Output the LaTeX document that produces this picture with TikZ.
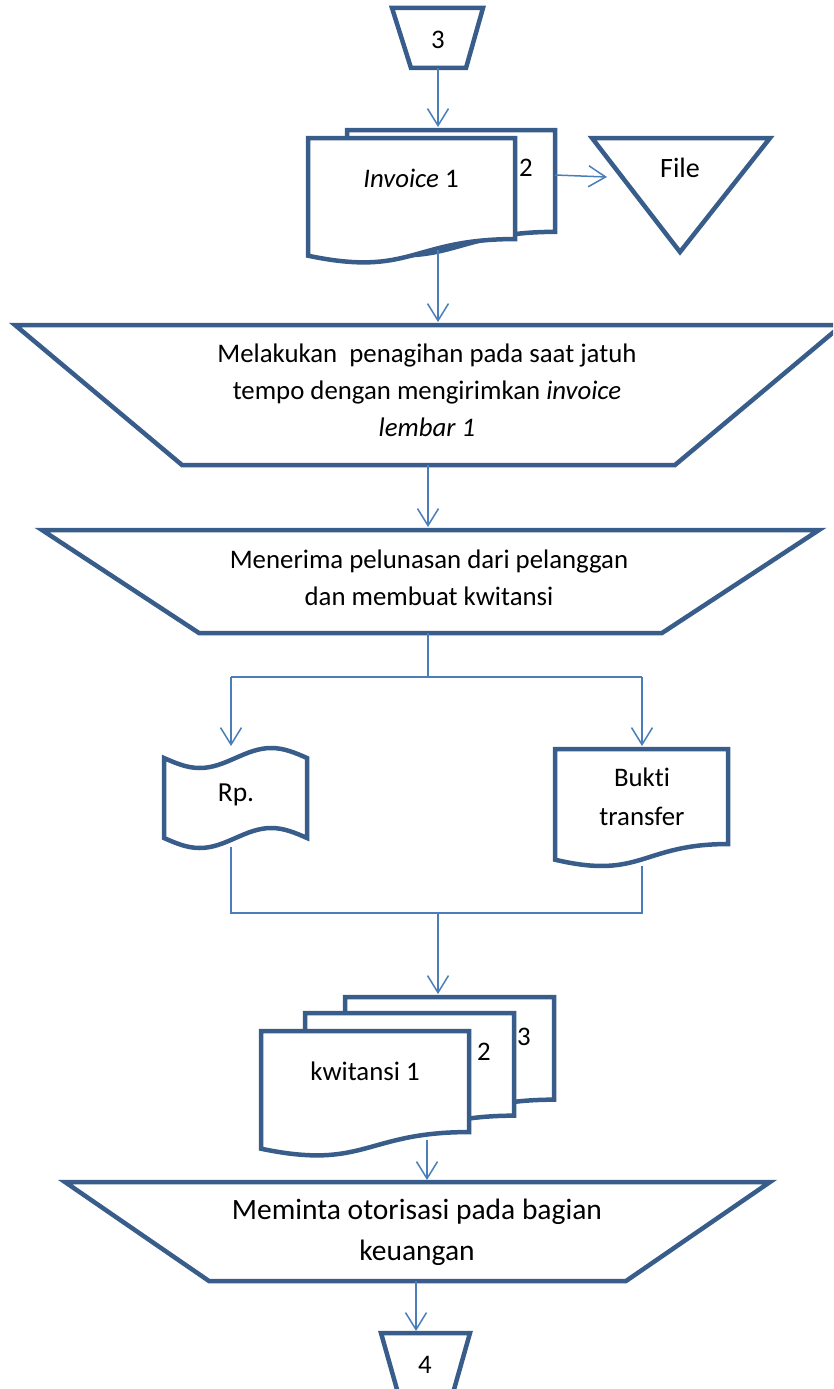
\documentclass[tikz,border=0pt]{standalone}
\usepackage{fontspec}
\setmainfont{Carlito}[Ligatures=NoCommon]
\usetikzlibrary{arrows.meta}
\definecolor{shapecol}{RGB}{56,93,138}
\definecolor{linecol}{RGB}{74,126,187}
\newcommand\mydoc[4]{%
  \draw[shp] (#1,#2) -- ({#1+#3},#2) -- ({#1+#3},{#2+0.802*#4})
    .. controls ({#1+0.5*#3},{#2+0.802*#4}) and ({#1+0.5*#3},{#2+1.107*#4}) .. (#1,{#2+0.934*#4}) -- cycle;}
\newcommand\mytape[4]{%
  \draw[shp] (#1,{#2+0.1*#4}) sin ({#1+0.25*#3},{#2+0.2*#4}) cos ({#1+0.5*#3},{#2+0.1*#4})
    sin ({#1+0.75*#3},#2) cos ({#1+#3},{#2+0.1*#4}) -- ({#1+#3},{#2+0.9*#4})
    sin ({#1+0.75*#3},{#2+0.8*#4}) cos ({#1+0.5*#3},{#2+0.9*#4})
    sin ({#1+0.25*#3},{#2+#4}) cos (#1,{#2+0.9*#4}) -- cycle;}
\begin{document}
\begin{tikzpicture}[x=1pt,y=-1pt,
  shp/.style={draw=shapecol,line width=4.5pt,fill=white,line join=miter},
  conn/.style={draw=linecol,line width=1.5pt},
  arr/.style={conn,-{Straight Barb[length=17pt,width=21pt,line width=1.5pt]}},
  txt/.style={inner sep=0pt,align=center,font=\fontsize{26.8}{37}\selectfont}]
\useasboundingbox (0,0) rectangle (833,1389);
\clip (0,0) rectangle (833,1389);
% off-page connector 3
\draw[shp] (392,8) -- (483,8) -- (466,68) -- (411,68) -- cycle;
\node[txt] (off3) at (438,40) {3};
% invoice stack
\mydoc{347}{130}{208}{127}
\mydoc{308}{138}{207}{126}
\node[txt] (inv2) at (526,168) {2};
\node[txt] (inv1) at (411,178) {\textit{Invoice} 1};
% file
\draw[shp] (592,138) -- (770,138) -- (680,252) -- cycle;
\node[txt,font=\fontsize{28}{34}\selectfont] (file) at (680,168) {File};
% manual op 1
\draw[shp] (15,325) -- (842,325) -- (675,465) -- (182,465) -- cycle;
\node[txt] (t1) at (427,390) {Melakukan\ \ penagihan pada saat jatuh\\tempo dengan mengirimkan \textit{invoice}\\\textit{lembar 1}};
% manual op 2
\draw[shp] (42,530) -- (819,530) -- (662,633) -- (199,633) -- cycle;
\node[txt] (t2) at (429,578) {Menerima pelunasan dari pelanggan\\dan membuat kwitansi};
% Rp tape
\mytape{164}{748}{143}{100}
\node[txt,font=\fontsize{27.5}{34}\selectfont] (rp) at (236,795) {Rp.};
% bukti transfer
\mydoc{555}{749}{173}{118.5}
\node[txt,font=\fontsize{26.8}{39}\selectfont] (bukti) at (642,797) {Bukti\\transfer};
% kwitansi stack
\mydoc{345}{997}{209}{128}
\mydoc{305}{1013}{209}{128}
\mydoc{261}{1031}{208}{126}
\node[txt] (kw3) at (524,1037) {3};
\node[txt] (kw2) at (484,1052) {2};
\node[txt] (kw1) at (365,1071) {kwitansi 1};
% manual op 3
\draw[shp] (65,1182) -- (770,1182) -- (626,1281) -- (209,1281) -- cycle;
\node[txt,font=\fontsize{29.5}{41}\selectfont] (t3) at (417,1232) {Meminta otorisasi pada bagian\\keuangan};
% off-page connector 4
\draw[shp] (381,1333) -- (470,1333) -- (453,1393) -- (398,1393) -- cycle;
\node[txt] (off4) at (425,1365) {4};
% connector coordinates
\coordinate (a1s) at (438,68);   \coordinate (a1e) at (438,127);
\coordinate (a2s) at (555,175);  \coordinate (a2e) at (607,177);
\coordinate (a3s) at (438,250);  \coordinate (a3e) at (438,322);
\coordinate (a4s) at (428,465);  \coordinate (a4e) at (428,527);
\coordinate (b0) at (428,633);   \coordinate (b1) at (428,677);
\coordinate (bl) at (231,677);   \coordinate (br) at (642,677);
\coordinate (rpt) at (231,746);  \coordinate (bkt) at (642,746);
\coordinate (rpb) at (231,847);  \coordinate (bkb) at (642,866);
\coordinate (ml) at (231,913);   \coordinate (mr) at (642,913);
\coordinate (mm) at (438,913);   \coordinate (kwt) at (438,994);
\coordinate (kwb) at (427,1140); \coordinate (t3t) at (427,1180);
\coordinate (t3b) at (416,1281); \coordinate (o4t) at (416,1331);
% connectors
\draw[arr] (a1s) -- (a1e);
\draw[arr] (a2s) -- (a2e);
\draw[arr] (a3s) -- (a3e);
\draw[arr] (a4s) -- (a4e);
\draw[conn] (b0) -- (b1);
\draw[conn] (bl) -- (br);
\draw[arr] (bl) -- (rpt);
\draw[arr] (br) -- (bkt);
\draw[conn] (rpb) -- (ml) -- (mr) -- (bkb);
\draw[arr] (mm) -- (kwt);
\draw[arr] (kwb) -- (t3t);
\draw[arr] (t3b) -- (o4t);
\end{tikzpicture}
\end{document}
